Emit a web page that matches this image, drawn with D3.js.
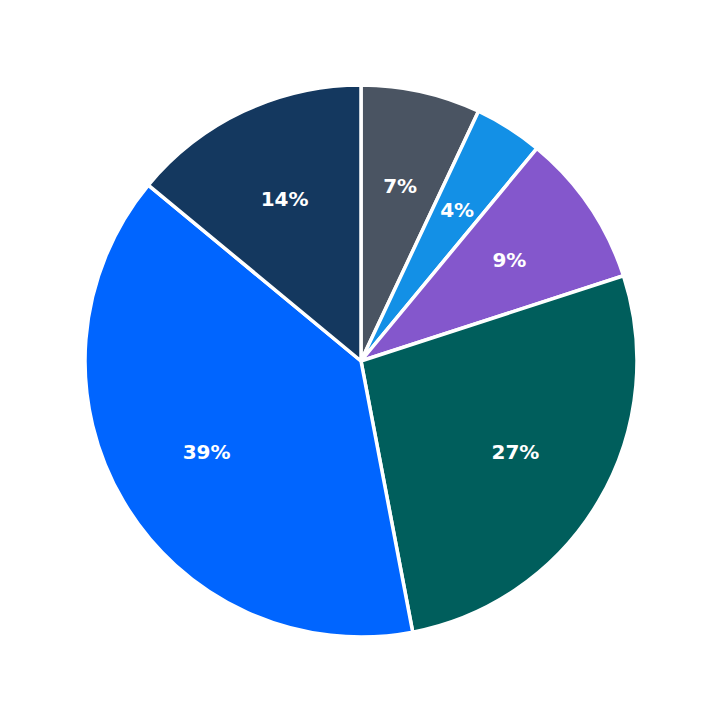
<!DOCTYPE html>
<html><head><meta charset="utf-8">
<script src="https://cdn.jsdelivr.net/npm/d3@7"></script>
<style>body{margin:0;background:#fff}</style>
</head><body>
<div id="chart"></div>
<script>
const categories = ["A", "B", "C", "D", "E", "F"];
const values = [7, 4, 9, 27, 39, 14];
const colors = ["#4a5462", "#1390e6", "#8457cc", "#005e5c", "#0065ff", "#14385f"];

const width = 723, height = 723, cx = 361, cy = 361, radius = 276;

const svg = d3.select("#chart").append("svg")
    .attr("width", width).attr("height", height);
const g = svg.append("g").attr("transform", `translate(${cx},${cy})`);

const pie = d3.pie().value(d => d.value).sort(null);
const arcs = pie(categories.map((c, i) => ({cat: c, value: values[i], color: colors[i]})));
const arc = d3.arc().innerRadius(0).outerRadius(radius);
const labelArc = d3.arc().innerRadius(radius * 0.65).outerRadius(radius * 0.65);

g.selectAll("path").data(arcs).join("path")
    .attr("d", arc)
    .attr("fill", d => d.data.color)
    .attr("stroke", "#fff")
    .attr("stroke-width", 3.5)
    .attr("stroke-linejoin", "round");

g.selectAll("text").data(arcs).join("text")
    .attr("transform", d => `translate(${labelArc.centroid(d)})`)
    .attr("text-anchor", "middle")
    .attr("dy", "0.35em")
    .attr("fill", "#fff")
    .attr("font-family", "DejaVu Sans, sans-serif")
    .attr("font-weight", "bold")
    .attr("font-size", 20)
    .text(d => d.data.value + "%");
</script>
</body></html>
